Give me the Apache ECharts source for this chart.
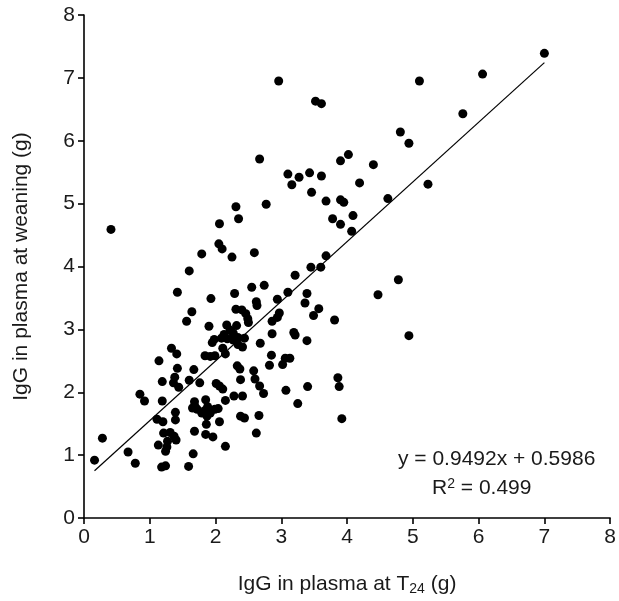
<!DOCTYPE html>
<html>
<head>
<meta charset="utf-8">
<script src="https://cdn.jsdelivr.net/npm/echarts@6/dist/echarts.min.js"></script>
<style>
html,body{margin:0;padding:0;background:#fff;}
#chart{width:619px;height:601px;}
</style>
</head>
<body>
<div id="chart"></div>
<script>
// IgG in plasma at T24 (g)
const pointsX = [
0.16,0.28,0.41,0.67,0.78,0.85,0.92,2.96,3.52,3.61,5.10,6.06,5.76,7.00,2.67,4.81,4.94,3.10,3.27,3.43,
3.61,3.16,3.46,3.90,4.02,4.40,4.19,5.23,3.68,3.90,3.95,4.62,3.78,3.90,4.09,4.07,2.77,2.31,2.35,2.06,
2.05,2.10,1.79,2.25,2.59,3.68,3.45,3.60,3.21,1.60,1.42,1.93,2.29,2.55,2.74,4.78,4.47,3.10,3.39,2.94,
2.62,2.63,3.36,3.57,3.49,2.97,2.94,3.81,2.86,1.64,1.56,1.90,2.31,2.40,2.46,2.49,2.50,2.86,3.19,3.21,
3.39,4.94,3.92,
2.17,2.32,2.22,2.27,2.13,1.98,1.95,2.09,2.18,2.27,2.34,2.44,2.34,2.41,2.11,2.15,2.68,
1.84,1.92,1.99,2.85,2.82,3.06,3.13,3.02,2.33,2.37,2.58,2.60,2.38,2.67,2.73,3.07,3.40,3.86,3.88,3.25,
2.28,2.41,2.01,2.06,2.11,2.15,
1.68,1.69,1.65,1.72,1.79,1.85,1.88,1.84,1.92,1.99,2.04,1.87,1.86,2.06,2.38,2.44,2.66,1.68,1.85,1.96,
2.62,2.15,1.66,1.59,
1.11,1.20,1.39,1.39,1.19,1.21,1.31,1.37,1.40,1.27,1.26,1.13,1.24,1.18,1.24,
1.14,1.33,1.41,1.42,1.19,1.38,1.36,1.44,1.67,1.60,1.76
];
// IgG in plasma at weaning (g)
const pointsY = [
0.92,1.27,4.59,1.05,0.87,1.97,1.86,6.95,6.63,6.59,6.95,7.06,6.43,7.39,5.71,6.14,5.96,5.47,5.42,5.49,
5.44,5.30,5.18,5.68,5.78,5.62,5.33,5.31,5.04,5.06,5.02,5.08,4.76,4.67,4.81,4.56,4.99,4.95,4.76,4.68,
4.36,4.28,4.20,4.15,4.22,4.17,3.99,3.99,3.86,3.93,3.59,3.49,3.57,3.67,3.70,3.79,3.55,3.59,3.57,3.48,
3.44,3.38,3.42,3.33,3.22,3.26,3.19,3.15,3.13,3.28,3.13,3.05,3.32,3.31,3.25,3.17,3.11,2.93,2.95,2.91,
2.82,2.90,1.58,
3.07,3.06,2.99,2.94,2.92,2.84,2.79,2.86,2.85,2.83,2.87,2.86,2.76,2.72,2.70,2.61,2.78,
2.58,2.57,2.58,2.59,2.43,2.54,2.54,2.44,2.42,2.37,2.34,2.21,2.20,2.10,1.98,2.03,2.09,2.23,2.09,1.82,
1.94,1.94,2.14,2.10,2.05,1.87,
1.85,1.77,1.75,1.73,1.67,1.88,1.77,1.71,1.67,1.73,1.74,1.62,1.49,1.53,1.62,1.59,1.63,1.38,1.33,1.29,
1.35,1.14,1.02,0.82,
1.57,1.53,1.68,1.56,1.86,1.35,1.36,1.30,1.24,1.22,1.13,1.16,1.06,0.81,0.83,
2.50,2.70,2.61,2.38,2.17,2.24,2.15,2.08,2.36,2.19,2.15
];
const slope = 0.9492;
const intercept = 0.5986;
const equationText = 'y = 0.9492x + 0.5986';
const r2Value = '0.499';
const axisTicks = [0,1,2,3,4,5,6,7,8];

const pts = pointsX.map((x,i)=>[x,pointsY[i]]);
const xMin = Math.min(...pointsX), xMax = Math.max(...pointsX);
const fitLine = [[xMin, slope*xMin+intercept],[xMax, slope*xMax+intercept]];

const FONT = 'Liberation Sans, Arial, sans-serif';
const TXT = '#1a1a1a';
const chart = echarts.init(document.getElementById('chart'), null, {renderer:'canvas'});
const axisCommon = {
  type:'value', min:axisTicks[0], max:axisTicks[axisTicks.length-1], interval:1,
  axisLine:{show:true, lineStyle:{color:'#000', width:1.6}},
  axisTick:{show:true, inside:false, length:6, lineStyle:{color:'#000', width:1.6}},
  splitLine:{show:false},
  axisLabel:{color:TXT, fontSize:21, fontFamily:FONT},
  nameLocation:'middle',
  nameTextStyle:{color:TXT, fontSize:21, fontFamily:FONT}
};
chart.setOption({
  animation:false,
  backgroundColor:'#fff',
  grid:{left:84, right:8, top:15, bottom:83, containLabel:false},
  xAxis:Object.assign({}, axisCommon, {
    name:'IgG in plasma at T{sub|24} (g)', nameGap:54,
    axisLabel:Object.assign({}, axisCommon.axisLabel, {margin:9}),
    nameTextStyle:{color:TXT, fontSize:21, fontFamily:FONT,
      rich:{sub:{fontSize:14, fontFamily:FONT, color:TXT, verticalAlign:'bottom', padding:[10,0,0,0]}}}
  }),
  yAxis:Object.assign({}, axisCommon, {
    name:'IgG in plasma at weaning (g)', nameGap:52,
    axisLabel:Object.assign({}, axisCommon.axisLabel, {margin:9})
  }),
  series:[
    {type:'scatter', data:pts, symbol:'circle', symbolSize:9, itemStyle:{color:'#000', opacity:1}, z:3},
    {type:'line', data:fitLine, symbol:'none', lineStyle:{color:'#000', width:1.2}, z:2}
  ],
  graphic:[
    {type:'text', left:398, top:449, style:{text:equationText, fill:TXT, font:'21px '+FONT}},
    {type:'text', left:432, top:477, style:{
      text:'R{sup|2} = '+r2Value, fill:TXT, font:'21px '+FONT,
      rich:{sup:{fontSize:14, fontFamily:FONT, fill:TXT, verticalAlign:'top', padding:[0,0,8,0]}}
    }}
  ]
});
</script>
</body>
</html>
